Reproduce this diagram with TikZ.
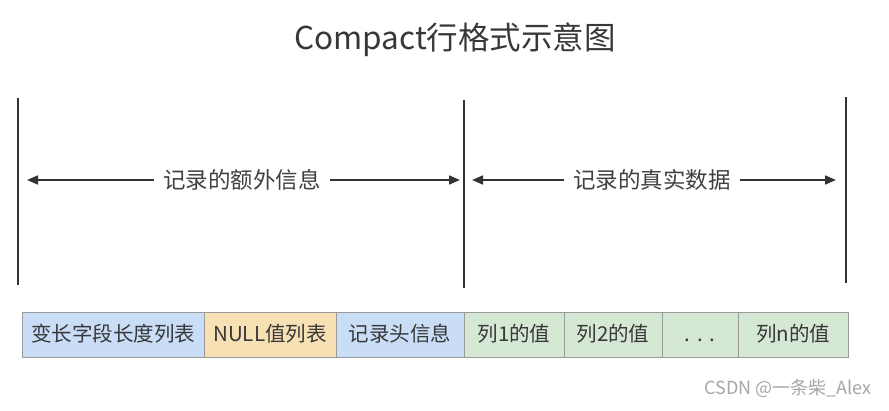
\documentclass[tikz,border=0pt]{standalone}
\usepackage{fontspec}
\setmainfont{Noto Sans CJK SC}
\usepackage{xcolor}
\usetikzlibrary{arrows.meta, positioning}

\definecolor{lineGray}{HTML}{333333}
\definecolor{boxBorder}{HTML}{9A9A9A}
\definecolor{blueFill}{HTML}{CADDF7}
\definecolor{orangeFill}{HTML}{F6E0B4}
\definecolor{greenFill}{HTML}{D5E8D4}

\begin{document}
\begin{tikzpicture}[
    x=1pt, y=-1pt,
    field/.style={draw=boxBorder, line width=1pt, inner sep=0pt, outer sep=0pt,
                  minimum height=45pt, text height=16pt, text depth=4pt,
                  font=\fontsize{20.5}{20.5}\selectfont, text=black!78},
    part/.style={font=\fontsize{22.5}{23}\selectfont, text=black!75, inner sep=9pt},
    bound/.style={draw=lineGray, line width=2pt},
    span/.style={draw=lineGray, line width=1.6pt, -{Triangle[length=11pt, width=9pt]}}
]
\useasboundingbox (0,0) rectangle (889,411);

\node[font=\fontsize{31.5}{33}\selectfont, text=black!78] (title) at (455,40) {Compact行格式示意图};

% boundaries
\coordinate (l1) at (18,98);  \coordinate (l2) at (18,285);
\coordinate (m1) at (464,100); \coordinate (m2) at (464,288);
\coordinate (r1) at (846,97); \coordinate (r2) at (846,283);
\draw[bound] (l1) -- (l2);
\draw[bound] (m1) -- (m2);
\draw[bound] (r1) -- (r2);

\node[part] (extra) at (242,180) {记录的额外信息};
\coordinate (extraL) at (27,180);
\coordinate (extraR) at (460,180);
\draw[span] (extra.west) -- (extraL);
\draw[span] (extra.east) -- (extraR);

\node[part] (real) at (652,180) {记录的真实数据};
\coordinate (realL) at (472,180);
\coordinate (realR) at (836,180);
\draw[span] (real.west) -- (realL);
\draw[span] (real.east) -- (realR);

% record fields
\node[field, fill=blueFill, minimum width=182pt, anchor=north west] (varlen) at (22,313) {变长字段长度列表};
\node[field, fill=orangeFill, minimum width=132pt, right=0pt of varlen] (nulls) {NULL值列表};
\node[field, fill=blueFill, minimum width=128pt, right=0pt of nulls] (header) {记录头信息};
\node[field, fill=greenFill, minimum width=100pt, right=0pt of header] (col1) {列1的值};
\node[field, fill=greenFill, minimum width=98pt, right=0pt of col1] (col2) {列2的值};
\node[field, fill=greenFill, minimum width=76pt, right=0pt of col2] (dots) {.\,\,.\,\,.};
\node[field, fill=greenFill, minimum width=110pt, right=0pt of dots] (coln) {列n的值};

\node[font=\fontsize{18}{18}\selectfont, text=black!35] (mark) at (788,388) {CSDN @一条柴\_Alex};
\end{tikzpicture}
\end{document}
